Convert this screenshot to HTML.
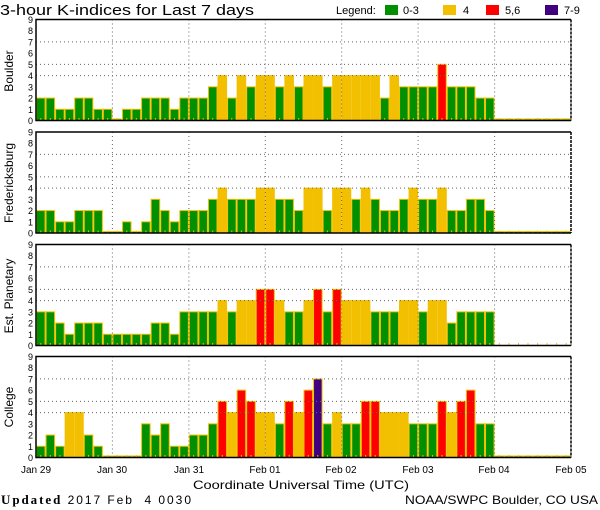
<!DOCTYPE html>
<html><head><meta charset="utf-8"><style>
html,body{margin:0;padding:0;background:#fff;}
svg{display:block;font-family:"DejaVu Sans Mono","Liberation Mono",monospace;}
</style></head><body>
<svg id="s" width="600" height="510" viewBox="0 0 600 510" xmlns="http://www.w3.org/2000/svg">
<rect width="600" height="510" fill="#fff"/>
<text x="0" y="15" font-size="15" textLength="254" lengthAdjust="spacingAndGlyphs" font-family="Liberation Sans, sans-serif">3-hour K-indices for Last 7 days</text>
<text x="336" y="14" font-size="11" font-family="Liberation Sans, sans-serif">Legend:</text>
<rect x="385" y="5" width="13" height="10" fill="#009000"/><text x="403" y="14" font-size="11" font-family="Liberation Sans, sans-serif">0-3</text>
<rect x="443" y="5" width="13" height="10" fill="#f2c000"/><text x="463" y="14" font-size="11" font-family="Liberation Sans, sans-serif">4</text>
<rect x="486" y="5" width="13" height="10" fill="#ff0000"/><text x="505" y="14" font-size="11" font-family="Liberation Sans, sans-serif">5,6</text>
<rect x="545" y="5" width="13" height="10" fill="#400080"/><text x="564" y="14" font-size="11" font-family="Liberation Sans, sans-serif">7-9</text>
<g id="bars"></g>
<g font-size="10" font-family="Liberation Sans, sans-serif" text-anchor="middle">
<text x="13" y="71" transform="rotate(-90 13 71)" font-size="12">Boulder</text>
<text x="13" y="183" transform="rotate(-90 13 183)" font-size="12">Fredericksburg</text>
<text x="13" y="296" transform="rotate(-90 13 296)" font-size="12">Est. Planetary</text>
<text x="13" y="407" transform="rotate(-90 13 407)" font-size="12">College</text>
</g>
<g font-size="10" font-family="Liberation Sans, sans-serif" text-anchor="middle">
<text x="36" y="473">Jan 29</text><text x="112" y="473">Jan 30</text><text x="189" y="473">Jan 31</text><text x="265" y="473">Feb 01</text><text x="341" y="473">Feb 02</text><text x="418" y="473">Feb 03</text><text x="494" y="473">Feb 04</text><text x="571" y="473">Feb 05</text>
</g>
<text x="193" y="489" font-size="12" textLength="216" lengthAdjust="spacingAndGlyphs" font-family="Liberation Sans, sans-serif">Coordinate Universal Time (UTC)</text>
<text x="1" y="504" font-size="13" font-family="Liberation Serif, serif" textLength="190" lengthAdjust="spacing"><tspan font-weight="bold">Updated</tspan><tspan font-family="Liberation Sans, sans-serif" font-size="12"> 2017 Feb &#160;4 0030</tspan></text>
<text x="405" y="504" font-size="12" textLength="193" lengthAdjust="spacingAndGlyphs" font-family="Liberation Sans, sans-serif">NOAA/SWPC Boulder, CO USA</text>
<g id="ylab" font-size="9" font-family="Liberation Sans, sans-serif" text-anchor="end"></g>
</svg>
<script>
var D=[
[2,2,1,1,2,2,1,1, 0,1,1,2,2,2,1,2, 2,2,3,4,2,4,3,4, 4,3,4,3,4,4,3,4, 4,4,4,4,2,4,3,3, 3,3,5,3,3,3,2,2, 0,0,0,0,0,0,0,0],
[2,2,1,1,2,2,2,0, 0,1,0,1,3,2,1,2, 2,2,3,4,3,3,3,4, 4,3,3,2,4,4,2,4, 4,3,4,3,2,2,3,4, 3,3,4,2,2,3,3,2, 0,0,0,0,0,0,0,0],
[3,3,2,1,2,2,2,1, 1,1,1,1,2,2,1,3, 3,3,3,4,3,4,4,5, 5,4,3,3,4,5,3,5, 4,4,4,3,3,3,4,4, 3,4,4,2,3,3,3,3, -1,-1,-1,-1,-1,-1,-1,-1],
[1,2,1,4,4,2,1,0, 0,0,0,3,2,3,1,1, 2,2,3,5,4,6,5,4, 4,3,5,4,6,7,3,4, 3,3,5,5,4,4,4,3, 3,3,5,4,5,6,3,3, 0,0,0,0,0,0,0,0]];
var tops=[19.5,132,244.5,356.5],H=101,L=36,R=571,W=(R-L)/56,u=H/9;
var ns="http://www.w3.org/2000/svg",g=document.getElementById("bars"),out="";
function col(v){return v<=3?"#009000":v==4?"#f2c000":v<=6?"#ff0000":"#400080";}
for(var p=0;p<4;p++){var t=tops[p],b=t+H;
 for(var i=0;i<56;i++){var v=D[p][i],x=L+i*W;
  if(v>=0){var h=v==0?1.5:v*u;
   out+='<rect x="'+(x+0.5).toFixed(2)+'" y="'+(b-h).toFixed(2)+'" width="'+(W-1).toFixed(2)+'" height="'+h.toFixed(2)+'" fill="'+col(v)+'" stroke="#f2c000" stroke-width="1"/>';}
  out+='<line x1="'+(x+W/2).toFixed(1)+'" y1="'+(b-2.5)+'" x2="'+(x+W/2).toFixed(1)+'" y2="'+b+'" stroke="#f2c000" stroke-width="1"/>';
 }
 [4,5,7].forEach(function(k){var y=(b-k*u).toFixed(1);out+='<line x1="'+L+'" y1="'+y+'" x2="'+R+'" y2="'+y+'" stroke="#666" stroke-dasharray="1,3"/>';});
 for(var d=1;d<7;d++){var x=(L+d*8*W).toFixed(1);out+='<line x1="'+x+'" y1="'+t+'" x2="'+x+'" y2="'+b+'" stroke="#666" stroke-dasharray="1,3"/>';}
 out+='<path d="M'+R+' '+t+'H'+L+'V'+b+'H'+R+'" fill="none" stroke="#000" stroke-width="1.5"/>';
 out+='<line x1="'+R+'" y1="'+t+'" x2="'+R+'" y2="'+b+'" stroke="#000" stroke-width="1.5" stroke-dasharray="3,1"/>';
 var yl=document.getElementById("ylab");
 for(var k=0;k<=9;k++){var tx=document.createElementNS(ns,"text");tx.setAttribute("x","33");tx.setAttribute("y",(b-k*u+3.5).toFixed(1));tx.textContent=String(k);yl.appendChild(tx);}
}
g.innerHTML=out;
</script>
</body></html>
